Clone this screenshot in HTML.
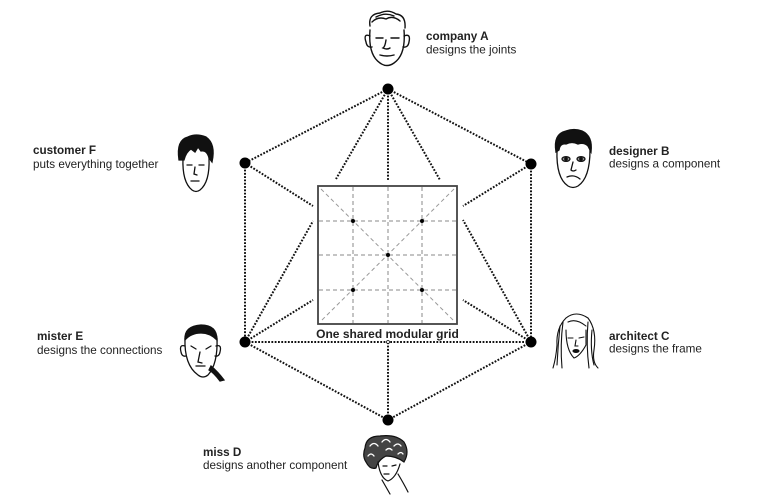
<!DOCTYPE html>
<html><head><meta charset="utf-8">
<style>
html,body{margin:0;padding:0;background:#fff;}
body{width:781px;height:501px;overflow:hidden;}
svg{display:block;}
text{font-family:"Liberation Sans",Arial,sans-serif;fill:#222;}
.b{font-weight:bold;}
</style></head><body>
<svg width="781" height="501" viewBox="0 0 781 501" xmlns="http://www.w3.org/2000/svg">
<rect width="781" height="501" fill="#fff"/>
<!-- dotted connectors -->
<g stroke="#111" stroke-width="2" stroke-dasharray="1.8 1.5" fill="none">
<line x1="388" y1="89" x2="245" y2="163"/>
<line x1="388" y1="89" x2="531" y2="164"/>
<line x1="245" y1="163" x2="245" y2="342"/>
<line x1="531" y1="164" x2="531" y2="342"/>
<line x1="245" y1="342" x2="388" y2="420"/>
<line x1="531" y1="342" x2="388" y2="420"/>
<line x1="245" y1="342" x2="531" y2="342"/>
<line x1="388" y1="420" x2="388" y2="342"/>
<line x1="388" y1="89" x2="336" y2="179"/>
<line x1="388" y1="89" x2="388" y2="180"/>
<line x1="388" y1="89" x2="440" y2="180"/>
<line x1="245" y1="163" x2="313" y2="206"/>
<line x1="245" y1="342" x2="313" y2="221"/>
<line x1="245" y1="342" x2="313" y2="300"/>
<line x1="531" y1="164" x2="463" y2="206"/>
<line x1="531" y1="342" x2="463" y2="220"/>
<line x1="531" y1="342" x2="463" y2="300"/>
</g>
<circle cx="388" cy="342" r="1.5" fill="#fff" stroke="#111" stroke-width="0.8"/>
<!-- nodes -->
<g fill="#000">
<circle cx="388" cy="89" r="5.5"/>
<circle cx="245" cy="163" r="5.5"/>
<circle cx="531" cy="164" r="5.5"/>
<circle cx="245" cy="342" r="5.5"/>
<circle cx="531" cy="342" r="5.5"/>
<circle cx="388" cy="420" r="5.5"/>
</g>
<!-- grid square -->
<rect x="318" y="186" width="139" height="138" fill="#fff" stroke="#444" stroke-width="1.8"/>
<g stroke="#888" stroke-width="1" stroke-dasharray="4 3" fill="none">
<line x1="353" y1="187" x2="353" y2="323"/>
<line x1="388" y1="187" x2="388" y2="323"/>
<line x1="422" y1="187" x2="422" y2="323"/>
<line x1="319" y1="221" x2="456" y2="221"/>
<line x1="319" y1="255" x2="456" y2="255"/>
<line x1="319" y1="290" x2="456" y2="290"/>
</g>
<g stroke="#999" stroke-width="1" stroke-dasharray="4 3" fill="none">
<line x1="321" y1="189" x2="454" y2="321"/>
<line x1="454" y1="189" x2="321" y2="321"/>
</g>
<g fill="#000">
<circle cx="353" cy="221" r="2"/>
<circle cx="422" cy="221" r="2"/>
<circle cx="388" cy="255" r="2"/>
<circle cx="353" cy="290" r="2"/>
<circle cx="422" cy="290" r="2"/>
</g>
<text x="387.5" y="338" class="b" font-size="12" text-anchor="middle">One shared modular grid</text>

<!-- labels -->
<g font-size="11.7">
<text x="426" y="40" class="b">company A</text>
<text x="426" y="53.5">designs the joints</text>
<text x="33" y="154" class="b">customer F</text>
<text x="33" y="168">puts everything together</text>
<text x="609" y="155" class="b">designer B</text>
<text x="609" y="167.5">designs a component</text>
<text x="37" y="340" class="b">mister E</text>
<text x="37" y="354">designs the connections</text>
<text x="609" y="340" class="b">architect C</text>
<text x="609" y="352.5">designs the frame</text>
<text x="203" y="456" class="b">miss D</text>
<text x="203" y="469">designs another component</text>
</g>

<!-- Face A -->
<g stroke="#111" stroke-width="1.4" fill="none" stroke-linecap="round">
<path d="M370 30 Q368 55 380 63 Q387 68 394 63 Q406 55 404 30"/>
<path d="M370 26 Q368 14 380 13 Q388 9 396 14 Q406 15 405 28"/>
<path d="M372 22 Q378 16 386 19 Q393 15 400 21"/>
<path d="M376 17 Q385 12 394 16"/>
<path d="M370 36 Q363 33 366 42 Q367 48 372 47"/>
<path d="M404 36 Q411 33 409 42 Q408 48 403 47"/>
<path d="M376 38 L383 38 M391 38 L399 38"/>
<path d="M386 40 Q385 47 383 48 Q387 50 390 48"/>
<path d="M380 55 Q387 57 394 55"/>
</g>
<!-- Face F -->
<g stroke="#111" stroke-width="1.3" fill="none" stroke-linecap="round">
<path d="M183 158 Q182 182 192 190 Q196 193 200 190 Q210 182 209 158"/>
<path d="M179 160 Q176 140 188 137 Q196 133 206 137 Q216 144 212 162 L209 158 Q207 150 201 151 L198 147 L195 152 L191 149 Q186 152 184 160 Z" fill="#111"/>
<path d="M187 165 L192 165 M199 165 L204 165"/>
<path d="M195 167 L194 174 L197 175"/>
<path d="M191 181 L199 181"/>
</g>
<!-- Face B -->
<g stroke="#111" stroke-width="1.3" fill="none" stroke-linecap="round">
<path d="M557 150 Q556 178 568 186 Q573 189 578 186 Q590 178 590 150"/>
<path d="M556 152 Q553 134 566 131 Q574 128 582 131 Q593 136 591 152 L588 146 Q584 142 578 144 Q572 141 566 144 Q560 143 559 150 Z" fill="#111"/>
<ellipse cx="566" cy="159" rx="4" ry="2.3" fill="#999"/>
<ellipse cx="581" cy="159" rx="4" ry="2.3" fill="#999"/>
<circle cx="566" cy="159" r="1.2" fill="#111"/>
<circle cx="581" cy="159" r="1.2" fill="#111"/>
<path d="M573 162 L571 170 Q573 172 576 170"/>
<path d="M567 177 Q574 174 580 179"/>
</g>
<!-- Face E -->
<g stroke="#111" stroke-width="1.3" fill="none" stroke-linecap="round">
<path d="M185 338 Q184 365 198 375 Q203 379 208 375 Q218 364 217 338"/>
<path d="M185 340 Q184 326 201 325 Q217 325 217 340 Q210 333 201 333 Q191 333 185 340 Z" fill="#111"/>
<path d="M185 346 Q179 344 181 352 Q182 357 186 356"/>
<path d="M216 346 Q222 344 220 352 Q219 357 215 356"/>
<path d="M211 366 Q218 372 224 380 L220 381 Q214 373 209 370 Z" fill="#111"/>
<path d="M191 346 L196 349 M206 349 L211 346"/>
<path d="M200 352 L198 362 L202 363"/>
<path d="M196 366 L205 366"/>
</g>
<!-- Face C -->
<g stroke="#111" stroke-width="1.1" fill="none" stroke-linecap="round">
<path d="M566 318 Q576 310 588 318 Q597 330 594 350 Q592 362 598 368"/>
<path d="M566 318 Q556 328 557 345 Q556 358 553 368"/>
<path d="M560 326 Q558 345 557 365 M563 322 Q560 345 562 368 M592 330 Q590 350 594 365 M588 322 Q586 345 589 368"/>
<path d="M568 322 Q576 318 586 326"/>
<path d="M566 330 Q566 350 574 358 Q580 356 586 345 L586 330"/>
<path d="M568 338 L573 338 M579 338 L584 337"/>
<path d="M576 340 L575 346 L578 346"/>
<ellipse cx="576" cy="351" rx="3" ry="1.5" fill="#111"/>
</g>
<!-- Face D -->
<g stroke="#111" stroke-width="1.2" fill="none" stroke-linecap="round">
<path d="M365 448 Q366 436 380 436 Q396 434 404 442 Q410 452 404 462 Q396 456 386 456 Q378 460 376 468 Q370 470 366 462 Q362 456 365 448 Z" fill="#444"/>
<path d="M370 446 q4 -5 8 0 M382 442 q4 -5 8 0 M394 446 q4 -4 7 0 M368 456 q3 -4 6 0 M398 454 q3 -3 5 0 M386 450 q3 -3 6 0" stroke="#fff" stroke-width="1.3"/>
<path d="M378 462 Q380 478 388 481 Q396 478 400 464"/>
<path d="M383 466 L387 466 M392 466 L396 465"/>
<path d="M384 474 L389 474"/>
<path d="M382 480 L390 494 M398 474 Q404 484 408 492"/>
</g>
</svg>
</body></html>
